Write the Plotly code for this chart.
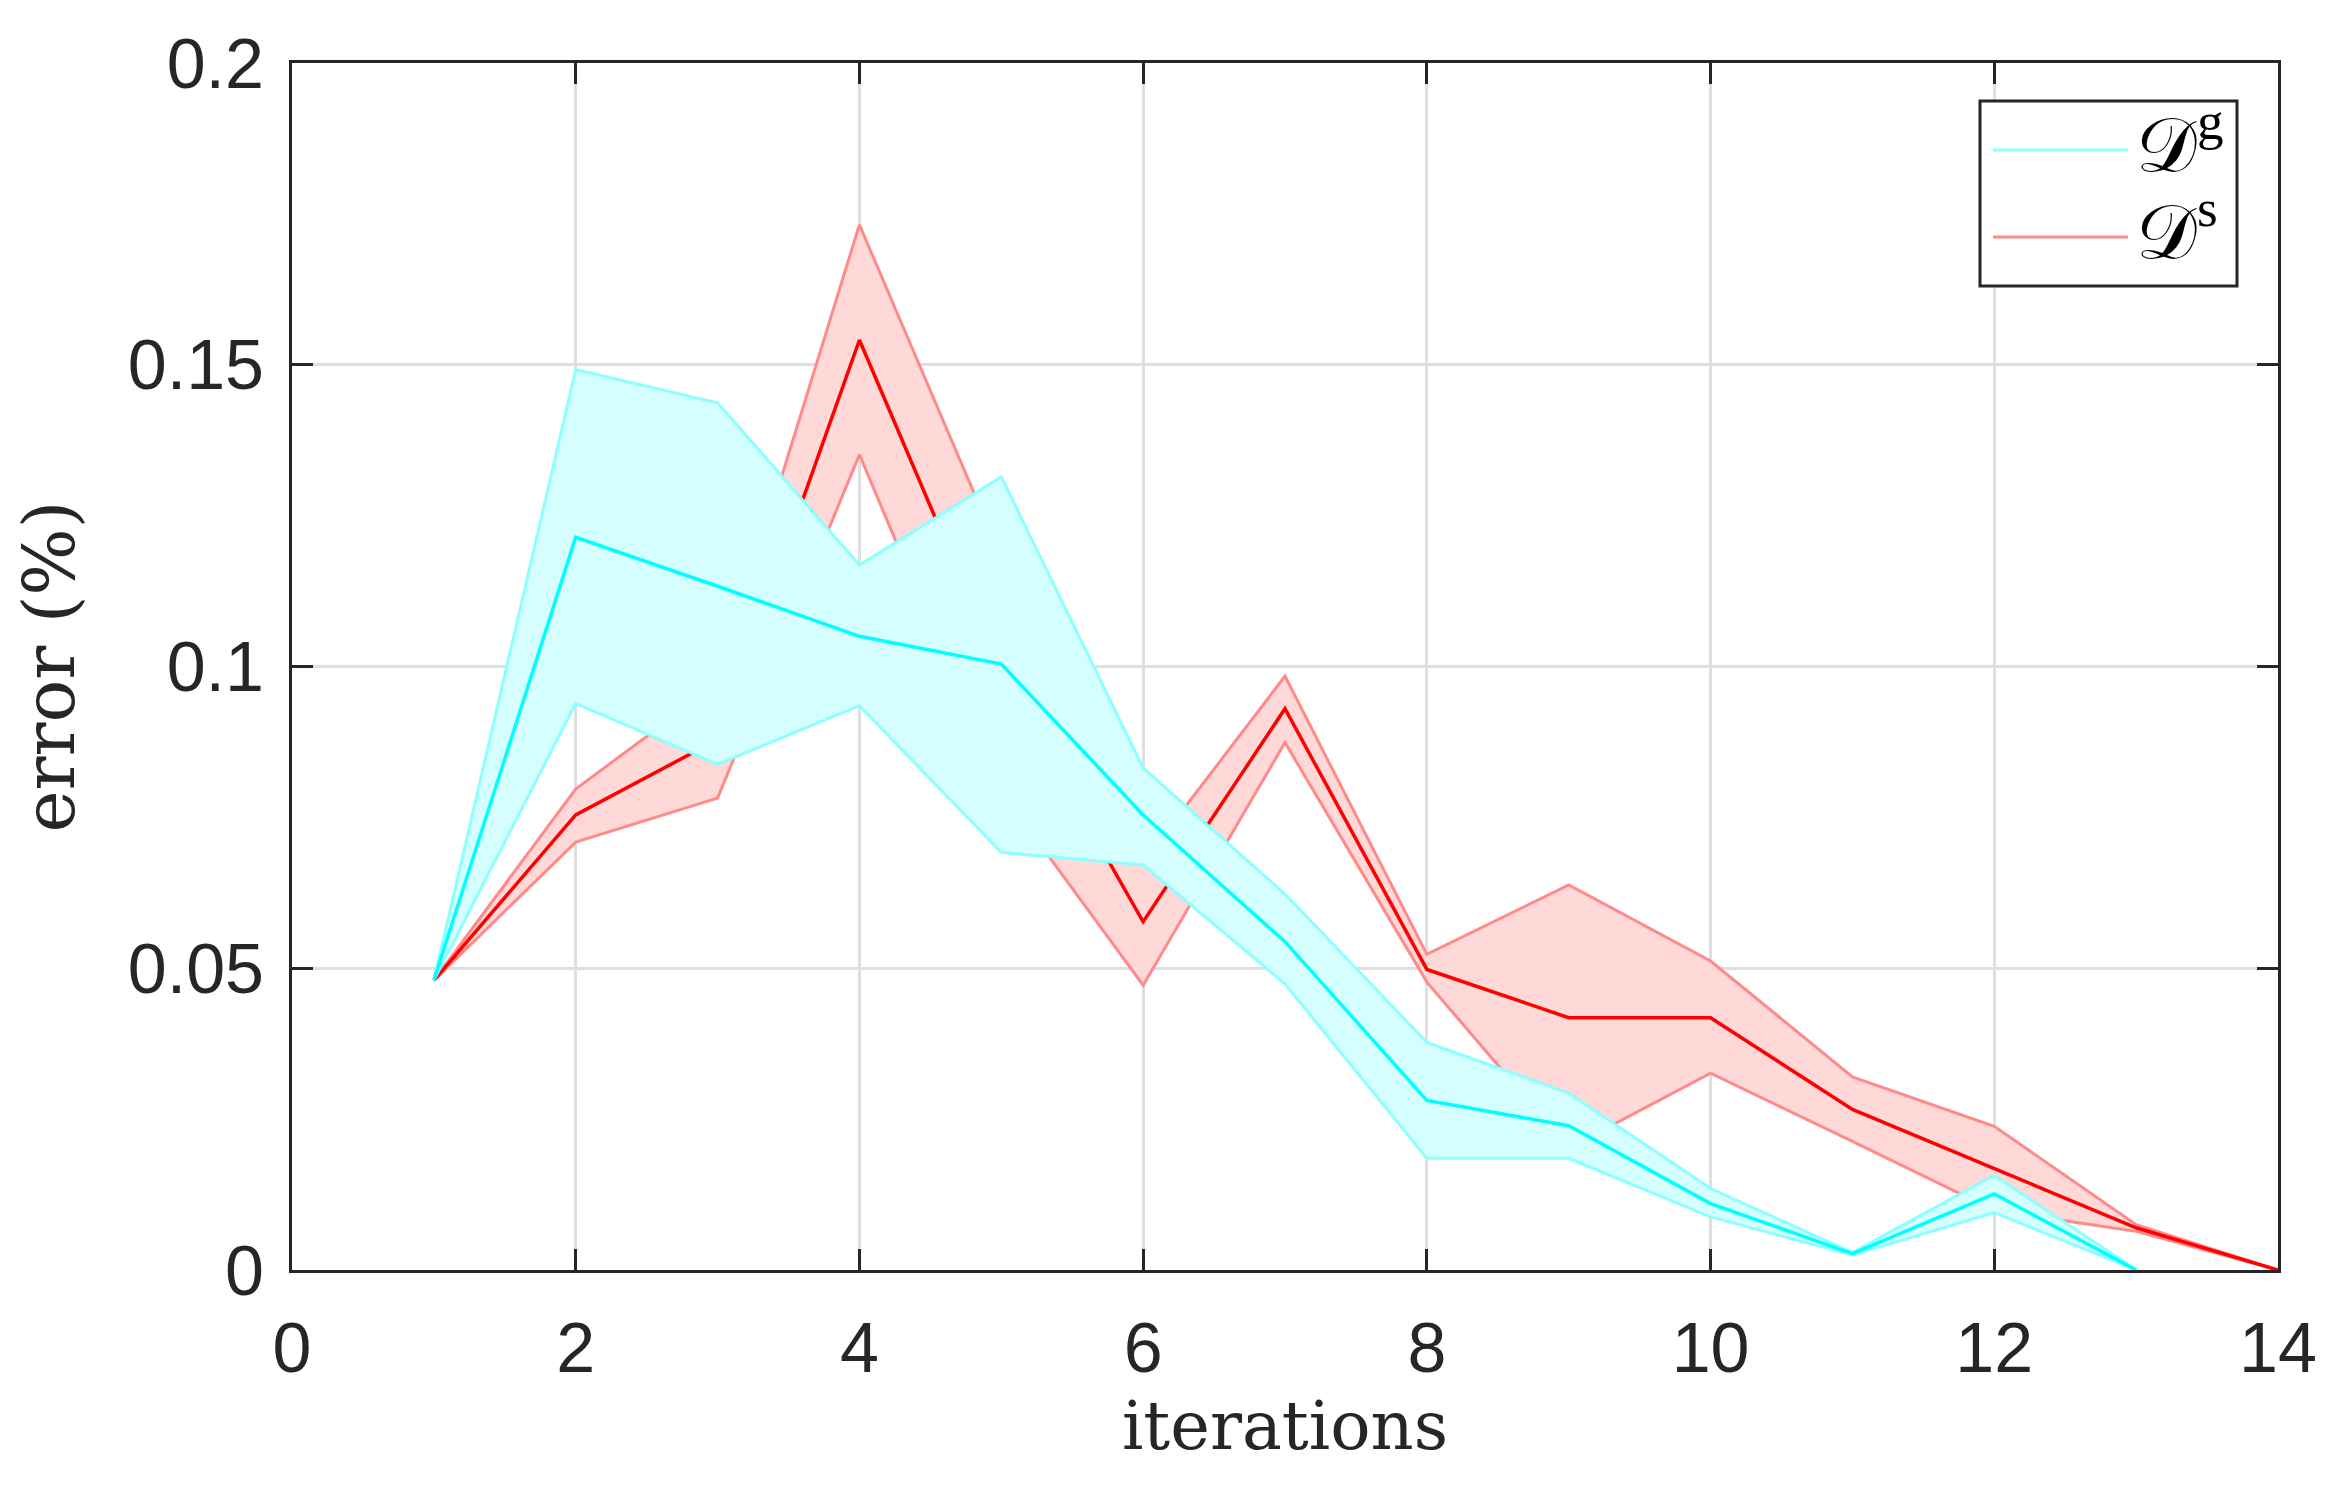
import plotly.graph_objects as go

# ---- data ----
iters_g = [1, 2, 3, 4, 5, 6, 7, 8, 9, 10, 11, 12, 13]
g_mean  = [0.048, 0.1214, 0.1133, 0.1050, 0.1004, 0.0754, 0.0544, 0.0281, 0.0239, 0.0110, 0.0027, 0.0126, 0.0]
g_upper = [0.048, 0.1492, 0.1437, 0.1168, 0.1314, 0.0832, 0.0623, 0.0377, 0.0293, 0.0135, 0.0029, 0.0157, 0.0]
g_lower = [0.048, 0.0939, 0.0838, 0.0935, 0.0692, 0.0671, 0.0474, 0.0185, 0.0185, 0.0088, 0.0025, 0.0095, 0.0]

iters_s = [1, 2, 3, 4, 5, 6, 7, 8, 9, 10, 11, 12, 13, 14]
s_mean  = [0.048, 0.0754, 0.0879, 0.1541, 0.0990, 0.0577, 0.0930, 0.0498, 0.0418, 0.0418, 0.0266, 0.0168, 0.0070, 0.0]
s_upper = [0.048, 0.0797, 0.0971, 0.1732, 0.1182, 0.0676, 0.0984, 0.0523, 0.0638, 0.0512, 0.0320, 0.0238, 0.0075, 0.0]
s_lower = [0.048, 0.0709, 0.0782, 0.1351, 0.0793, 0.0472, 0.0874, 0.0477, 0.0202, 0.0326, 0.0213, 0.0099, 0.0064, 0.0]

x_ticks = [0, 2, 4, 6, 8, 10, 12, 14]
x_ticklabels = ["0", "2", "4", "6", "8", "10", "12", "14"]
y_ticks = [0, 0.05, 0.1, 0.15, 0.2]
y_ticklabels = ["0", "0.05", "0.1", "0.15", "0.2"]

series_names = ["𝒟<sup>g</sup>", "𝒟<sup>s</sup>"]

# ---- styles ----
AX = "#262626"
GRID = "#dfdfdf"
RED, RED_EDGE, RED_FILL = "#ff0000", "#ff8a8a", "#ffd8d8"
CY, CY_EDGE, CY_FILL = "#00ffff", "#8cffff", "#d5ffff"

fig = go.Figure()

def band(x, up, lo, edge, fill, name):
    fig.add_trace(go.Scatter(
        x=list(x) + list(x)[::-1], y=list(up) + list(lo)[::-1],
        mode="lines", fill="toself", fillcolor=fill,
        line=dict(color=edge, width=3), hoverinfo="skip",
        showlegend=False, name=name))

band(iters_s, s_upper, s_lower, RED_EDGE, RED_FILL, "s band")
fig.add_trace(go.Scatter(x=iters_s, y=s_mean, mode="lines",
                         line=dict(color=RED, width=3.5), showlegend=False, name="Ds"))
band(iters_g, g_upper, g_lower, CY_EDGE, CY_FILL, "g band")
fig.add_trace(go.Scatter(x=iters_g, y=g_mean, mode="lines",
                         line=dict(color=CY, width=3.5), showlegend=False, name="Dg"))

# page body has an 8px default margin: shrink figure and margins to compensate
OFF = 8
W, H = 2344 - 2 * OFF, 1488 - 2 * OFF
L, R, T, B = 292 - OFF, 66 - OFF, 63 - OFF, 218 - OFF

tick_font = dict(family="Liberation Sans, Arial, sans-serif", size=70, color=AX)

fig.update_xaxes(range=[0, 14], tickvals=x_ticks, ticktext=x_ticklabels,
                 showgrid=True, gridcolor=GRID, gridwidth=3,
                 showline=True, linecolor=AX, linewidth=3, mirror="ticks",
                 ticks="inside", ticklen=21, tickwidth=3, tickcolor=AX,
                 tickfont=tick_font, zeroline=False,
                 title=dict(text="iterations",
                            font=dict(family="DejaVu Serif, serif", size=67, color=AX),
                            standoff=12),
                 ticklabelstandoff=15)
fig.update_yaxes(range=[0, 0.2], tickvals=y_ticks, ticktext=y_ticklabels,
                 showgrid=True, gridcolor=GRID, gridwidth=3,
                 showline=True, linecolor=AX, linewidth=3, mirror="ticks",
                 ticks="inside", ticklen=21, tickwidth=3, tickcolor=AX,
                 tickfont=tick_font, zeroline=False,
                 title=dict(text="error (%)",
                            font=dict(family="DejaVu Serif, serif", size=71, color=AX),
                            standoff=31),
                 ticklabelstandoff=11)

# ---- manual legend (MATLAB style box with long line samples) ----
pw, ph = W - L - R, H - T - B
def px(xp): return (xp - OFF - L) / pw
def py(yp): return (H + OFF - B - yp) / ph

fig.add_shape(type="rect", xref="paper", yref="paper",
              x0=px(1980), x1=px(2237), y0=py(286), y1=py(101),
              line=dict(color=AX, width=3), fillcolor="white", layer="above")
for yy, col, label in [(150, CY_EDGE, series_names[0]), (237, RED_EDGE, series_names[1])]:
    fig.add_shape(type="line", xref="paper", yref="paper",
                  x0=px(1993), x1=px(2128), y0=py(yy), y1=py(yy),
                  line=dict(color=col, width=3), layer="above")
    fig.add_annotation(xref="paper", yref="paper", x=px(2134), y=py(yy - 10),
                       xanchor="left", yanchor="middle", showarrow=False,
                       text=label,
                       font=dict(family="Liberation Serif, DejaVu Serif, serif", size=76, color="black"))

fig.update_layout(width=W, height=H, margin=dict(l=L, r=R, t=T, b=B, autoexpand=False),
                  plot_bgcolor="white", paper_bgcolor="white", showlegend=False)

fig.write_html("out.html")
